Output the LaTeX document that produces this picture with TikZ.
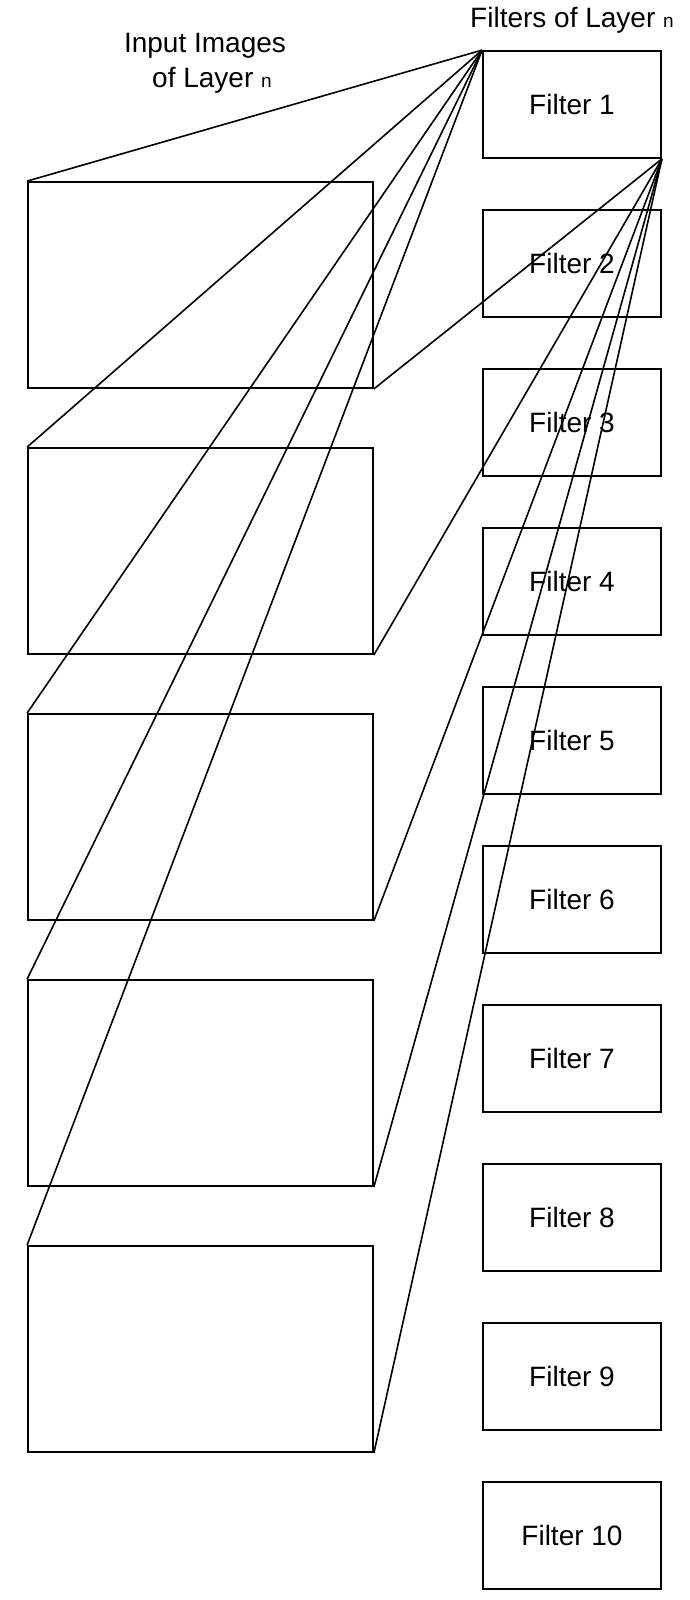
\documentclass[tikz,border=0pt]{standalone}
\usepackage{fontspec}
\setmainfont{Liberation Sans}
\begin{document}
\begin{tikzpicture}[x=1pt,y=-1pt,
  box/.style={draw,line width=1.8pt,minimum width=178pt,minimum height=107pt,inner sep=0pt,font=\fontsize{28}{32}\selectfont},
  img/.style={draw,line width=1.8pt,minimum width=345pt,minimum height=206pt,inner sep=0pt},
  conn/.style={line width=1.6pt},
  lbl/.style={font=\fontsize{28}{32}\selectfont,inner sep=0pt},
  sub/.style={font=\fontsize{19}{22}\selectfont}]
\useasboundingbox (0,0) rectangle (690,1600);
\foreach \i in {1,...,10}{
  \node[box] (f\i) at (572,{51+53.5+(\i-1)*159}) {Filter \i};
}
\foreach \j in {1,...,5}{
  \node[img] (m\j) at (200.5,{182+103+(\j-1)*266}) {};
}
\node[lbl] (t1) at (205,46) {Input Images};
\node[lbl] (t2) at (212,80) {of Layer {\fontsize{19}{22}\selectfont n}};
\node[lbl] (t3) at (572,20) {Filters of Layer {\fontsize{19}{22}\selectfont n}};
\foreach \j in {1,...,5}{
  \draw[conn] (f1.north west) -- (m\j.north west);
  \draw[conn] (f1.south east) -- (m\j.south east);
}
\end{tikzpicture}
\end{document}
